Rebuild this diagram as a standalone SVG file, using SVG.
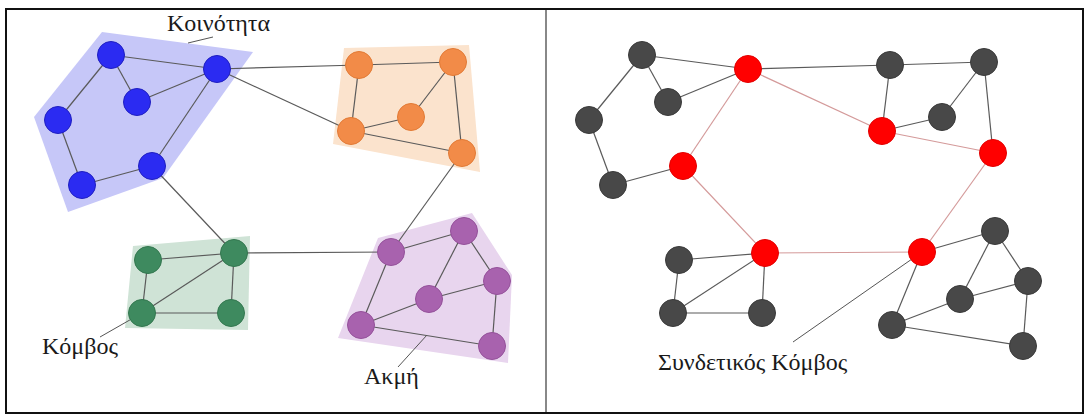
<svg xmlns="http://www.w3.org/2000/svg" width="1085" height="417" viewBox="0 0 1085 417">
<style>
.e{stroke:#5a5a5a;stroke-width:1.2;fill:none}
.er{stroke:#d49a9a;stroke-width:1.2;fill:none}
.lead{stroke:#555;stroke-width:1;fill:none}
.b{fill:#2b2bf2;stroke:#1f1fc0;stroke-width:1}
.o{fill:#f28b48;stroke:#e27a35;stroke-width:1}
.g{fill:#3e8a5f;stroke:#33774f;stroke-width:1}
.p{fill:#a862ae;stroke:#94519a;stroke-width:1}
.k{fill:#484848;stroke:#3a3a3a;stroke-width:1}
.r{fill:#ff0000;stroke:#e30000;stroke-width:1}
.t{font-family:"Liberation Serif","Times New Roman",serif;font-size:24px;fill:#1a1a1a}
</style>
<rect x="0" y="0" width="1085" height="417" fill="#ffffff"/>
<g id="frame">
<rect x="6" y="9" width="1077" height="404" fill="none" stroke="#111" stroke-width="2"/>
<line x1="546" y1="10" x2="546" y2="412" stroke="#888" stroke-width="2"/>
</g>
<g id="communities">
<polygon points="102,32 253,52 163,178 68,212 34,117" fill="#c6c7f8"/>
<polygon points="344,48 469,45 480,172 333,144" fill="#fbe3cd"/>
<polygon points="133,246 250,236 248,330 125,328" fill="#cfe3d6"/>
<polygon points="378,238 472,213 512,275 508,363 338,338" fill="#e8d5ee"/>
</g>
<g id="connectors">
<line class="e" x1="111" y1="55" x2="217" y2="69"/>
<line class="e" x1="111" y1="55" x2="137" y2="102"/>
<line class="e" x1="111" y1="55" x2="58" y2="120"/>
<line class="e" x1="137" y1="102" x2="217" y2="69"/>
<line class="e" x1="58" y1="120" x2="82" y2="185"/>
<line class="e" x1="82" y1="185" x2="152" y2="166"/>
<line class="e" x1="152" y1="166" x2="217" y2="69"/>
<line class="e" x1="217" y1="69" x2="359" y2="65"/>
<line class="e" x1="217" y1="69" x2="351" y2="131"/>
<line class="e" x1="152" y1="166" x2="234" y2="253"/>
<line class="e" x1="359" y1="65" x2="453" y2="62"/>
<line class="e" x1="359" y1="65" x2="351" y2="131"/>
<line class="e" x1="453" y1="62" x2="411" y2="117"/>
<line class="e" x1="453" y1="62" x2="462" y2="153"/>
<line class="e" x1="411" y1="117" x2="351" y2="131"/>
<line class="e" x1="351" y1="131" x2="462" y2="153"/>
<line class="e" x1="462" y1="153" x2="391" y2="252"/>
<line class="e" x1="148" y1="260" x2="234" y2="253"/>
<line class="e" x1="148" y1="260" x2="142" y2="313"/>
<line class="e" x1="142" y1="313" x2="234" y2="253"/>
<line class="e" x1="142" y1="313" x2="231" y2="313"/>
<line class="e" x1="234" y1="253" x2="231" y2="313"/>
<line class="e" x1="234" y1="253" x2="391" y2="252"/>
<line class="e" x1="391" y1="252" x2="464" y2="231"/>
<line class="e" x1="391" y1="252" x2="361" y2="325"/>
<line class="e" x1="464" y1="231" x2="429" y2="299"/>
<line class="e" x1="464" y1="231" x2="497" y2="281"/>
<line class="e" x1="497" y1="281" x2="429" y2="299"/>
<line class="e" x1="429" y1="299" x2="361" y2="325"/>
<line class="e" x1="497" y1="281" x2="492" y2="346"/>
<line class="e" x1="361" y1="325" x2="492" y2="346"/>
<line class="e" x1="642" y1="55" x2="748" y2="69"/>
<line class="e" x1="642" y1="55" x2="668" y2="102"/>
<line class="e" x1="642" y1="55" x2="589" y2="120"/>
<line class="e" x1="668" y1="102" x2="748" y2="69"/>
<line class="e" x1="589" y1="120" x2="613" y2="185"/>
<line class="e" x1="613" y1="185" x2="683" y2="166"/>
<line class="er" x1="683" y1="166" x2="748" y2="69"/>
<line class="e" x1="748" y1="69" x2="890" y2="65"/>
<line class="er" x1="748" y1="69" x2="882" y2="131"/>
<line class="er" x1="683" y1="166" x2="765" y2="253"/>
<line class="e" x1="890" y1="65" x2="984" y2="62"/>
<line class="e" x1="890" y1="65" x2="882" y2="131"/>
<line class="e" x1="984" y1="62" x2="942" y2="117"/>
<line class="e" x1="984" y1="62" x2="993" y2="153"/>
<line class="e" x1="942" y1="117" x2="882" y2="131"/>
<line class="er" x1="882" y1="131" x2="993" y2="153"/>
<line class="er" x1="993" y1="153" x2="922" y2="252"/>
<line class="e" x1="679" y1="260" x2="765" y2="253"/>
<line class="e" x1="679" y1="260" x2="673" y2="313"/>
<line class="e" x1="673" y1="313" x2="765" y2="253"/>
<line class="e" x1="673" y1="313" x2="762" y2="313"/>
<line class="e" x1="765" y1="253" x2="762" y2="313"/>
<line class="er" x1="765" y1="253" x2="922" y2="252"/>
<line class="e" x1="922" y1="252" x2="995" y2="231"/>
<line class="e" x1="922" y1="252" x2="892" y2="325"/>
<line class="e" x1="995" y1="231" x2="960" y2="299"/>
<line class="e" x1="995" y1="231" x2="1028" y2="281"/>
<line class="e" x1="1028" y1="281" x2="960" y2="299"/>
<line class="e" x1="960" y1="299" x2="892" y2="325"/>
<line class="e" x1="1028" y1="281" x2="1023" y2="346"/>
<line class="e" x1="892" y1="325" x2="1023" y2="346"/>
<line class="lead" x1="188" y1="43" x2="213" y2="37"/>
<line class="lead" x1="100" y1="337" x2="142" y2="313"/>
<line class="lead" x1="398" y1="367" x2="427" y2="335"/>
<line class="lead" x1="793" y1="342" x2="922" y2="252"/>
</g>
<g id="nodes-left">
<g id="b1"><circle class="b" cx="111" cy="55" r="13.5"/></g>
<g id="b2"><circle class="b" cx="217" cy="69" r="13.5"/></g>
<g id="b3"><circle class="b" cx="137" cy="102" r="13.5"/></g>
<g id="b4"><circle class="b" cx="58" cy="120" r="13.5"/></g>
<g id="b5"><circle class="b" cx="152" cy="166" r="13.5"/></g>
<g id="b6"><circle class="b" cx="82" cy="185" r="13.5"/></g>
<g id="o1"><circle class="o" cx="359" cy="65" r="13.5"/></g>
<g id="o2"><circle class="o" cx="453" cy="62" r="13.5"/></g>
<g id="o3"><circle class="o" cx="411" cy="117" r="13.5"/></g>
<g id="o4"><circle class="o" cx="351" cy="131" r="13.5"/></g>
<g id="o5"><circle class="o" cx="462" cy="153" r="13.5"/></g>
<g id="g1"><circle class="g" cx="148" cy="260" r="13.5"/></g>
<g id="g2"><circle class="g" cx="234" cy="253" r="13.5"/></g>
<g id="g3"><circle class="g" cx="142" cy="313" r="13.5"/></g>
<g id="g4"><circle class="g" cx="231" cy="313" r="13.5"/></g>
<g id="p1"><circle class="p" cx="391" cy="252" r="13.5"/></g>
<g id="p2"><circle class="p" cx="464" cy="231" r="13.5"/></g>
<g id="p3"><circle class="p" cx="497" cy="281" r="13.5"/></g>
<g id="p4"><circle class="p" cx="429" cy="299" r="13.5"/></g>
<g id="p5"><circle class="p" cx="361" cy="325" r="13.5"/></g>
<g id="p6"><circle class="p" cx="492" cy="346" r="13.5"/></g>
</g>
<g id="nodes-right">
<g id="rb1"><circle class="k" cx="642" cy="55" r="13.5"/></g>
<g id="rb2"><circle class="r" cx="748" cy="69" r="13.5"/></g>
<g id="rb3"><circle class="k" cx="668" cy="102" r="13.5"/></g>
<g id="rb4"><circle class="k" cx="589" cy="120" r="13.5"/></g>
<g id="rb5"><circle class="r" cx="683" cy="166" r="13.5"/></g>
<g id="rb6"><circle class="k" cx="613" cy="185" r="13.5"/></g>
<g id="ro1"><circle class="k" cx="890" cy="65" r="13.5"/></g>
<g id="ro2"><circle class="k" cx="984" cy="62" r="13.5"/></g>
<g id="ro3"><circle class="k" cx="942" cy="117" r="13.5"/></g>
<g id="ro4"><circle class="r" cx="882" cy="131" r="13.5"/></g>
<g id="ro5"><circle class="r" cx="993" cy="153" r="13.5"/></g>
<g id="rg1"><circle class="k" cx="679" cy="260" r="13.5"/></g>
<g id="rg2"><circle class="r" cx="765" cy="253" r="13.5"/></g>
<g id="rg3"><circle class="k" cx="673" cy="313" r="13.5"/></g>
<g id="rg4"><circle class="k" cx="762" cy="313" r="13.5"/></g>
<g id="rp1"><circle class="r" cx="922" cy="252" r="13.5"/></g>
<g id="rp2"><circle class="k" cx="995" cy="231" r="13.5"/></g>
<g id="rp3"><circle class="k" cx="1028" cy="281" r="13.5"/></g>
<g id="rp4"><circle class="k" cx="960" cy="299" r="13.5"/></g>
<g id="rp5"><circle class="k" cx="892" cy="325" r="13.5"/></g>
<g id="rp6"><circle class="k" cx="1023" cy="346" r="13.5"/></g>
</g>
<g id="labels">
<text class="t" x="167" y="31">Κοινότητα</text>
<text class="t" x="42" y="354">Κόμβος</text>
<text class="t" x="364" y="384">Ακμή</text>
<text class="t" x="658" y="370">Συνδετικός Κόμβος</text>
</g>
</svg>
